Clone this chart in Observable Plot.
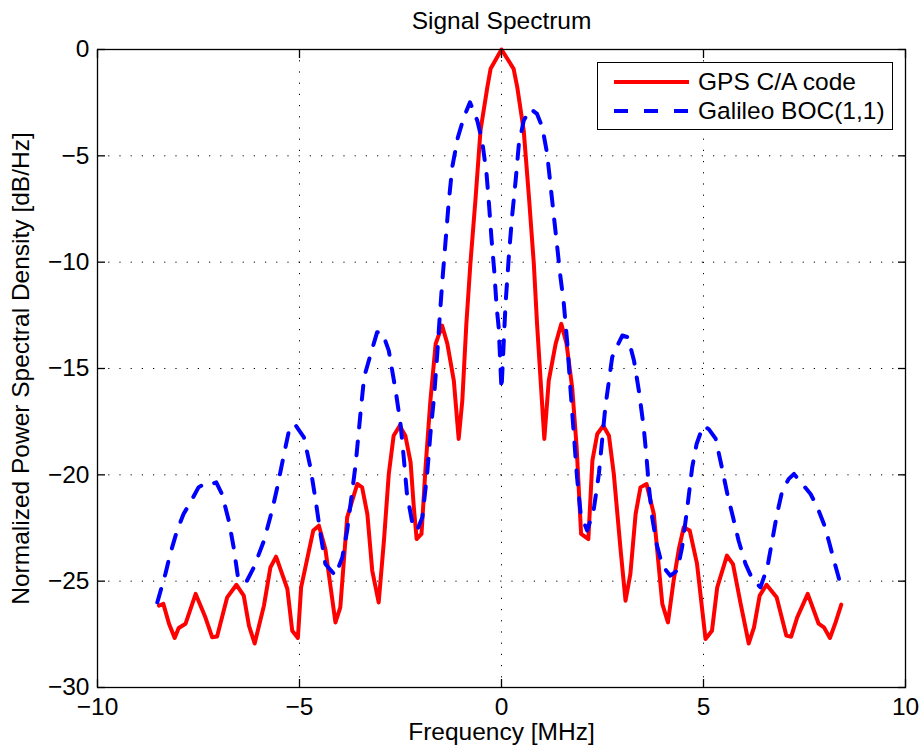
<!DOCTYPE html>
<html>
<head>
<meta charset="utf-8">
<script src="https://cdn.jsdelivr.net/npm/d3@7"></script>
<script src="https://cdn.jsdelivr.net/npm/@observablehq/plot@0.6"></script>
<style>
  html, body { margin: 0; padding: 0; background: #fff; overflow: hidden; }
  #wrap { position: relative; width: 922px; height: 754px; font-family: "Liberation Sans", Arial, sans-serif; }
  #legend { position: absolute; left: 597px; top: 62px; width: 294px; height: 66px; border: 1.3px solid #000; background: #fff; }
  #legend .row { position: absolute; left: 0; height: 28px; display: flex; align-items: center; }
  #legend svg { display: block; }
  #legend span { font-size: 24.5px; color: #000; margin-left: 9px; white-space: nowrap; }
</style>
</head>
<body>
<div id="wrap"></div>
<script>
// ---- data ----
const title = "Signal Spectrum";
const xLabel = "Frequency [MHz]";
const yLabel = "Normalized Power Spectral Density [dB/Hz]";
const xTicks = [-10, -5, 0, 5, 10];
const yTicks = [-30, -25, -20, -15, -10, -5, 0];
const seriesNames = ["GPS C/A code", "Galileo BOC(1,1)"];

const gpsFreq = [-8.48,-8.37,-8.23,-8.09,-7.99,-7.82,-7.57,-7.33,-7.16,-7.04,-6.79,-6.56,-6.38,-6.25,-6.11,-5.88,-5.72,-5.58,-5.30,-5.18,-5.04,-4.96,-4.66,-4.52,-4.36,-4.11,-3.99,-3.82,-3.57,-3.45,-3.32,-3.20,-3.04,-2.91,-2.79,-2.67,-2.52,-2.38,-2.25,-2.17,-2.10,-1.98,-1.88,-1.76,-1.63,-1.47,-1.34,-1.18,-1.06,-0.97,-0.87,-0.77,-0.64,-0.52,-0.35,-0.27,0,0.30,0.39,0.55,0.68,0.80,0.88,1.06,1.17,1.34,1.48,1.61,1.75,1.86,1.97,2.15,2.25,2.37,2.52,2.66,2.78,2.95,3.07,3.19,3.32,3.44,3.59,3.77,3.98,4.12,4.26,4.39,4.51,4.66,4.84,5.05,5.21,5.34,5.58,5.73,5.92,6.12,6.25,6.39,6.56,6.81,7.05,7.17,7.32,7.58,7.85,7.98,8.13,8.27,8.41];
const gpsPsd = [-26.15,-26.07,-27.0,-27.67,-27.2,-27.0,-25.6,-26.7,-27.64,-27.6,-25.76,-25.17,-25.68,-27.1,-27.93,-26.15,-24.35,-23.85,-25.37,-27.33,-27.67,-25.29,-22.62,-22.39,-23.49,-26.94,-26.23,-22.0,-20.43,-20.59,-21.85,-24.5,-26.0,-23.1,-19.96,-18.16,-17.69,-18.16,-19.41,-21.53,-23.02,-22.78,-19.65,-16.51,-13.84,-12.98,-13.84,-15.57,-18.31,-16.51,-12.9,-10.07,-6.95,-3.81,-1.77,-0.91,0,-0.91,-1.77,-3.81,-6.95,-10.07,-12.9,-18.31,-15.57,-13.84,-12.9,-13.84,-15.9,-18.7,-22.78,-23.02,-19.33,-18.08,-17.69,-18.16,-19.96,-23.57,-25.92,-24.66,-21.84,-20.59,-20.43,-21.84,-26.07,-26.94,-24.98,-23.49,-22.47,-22.62,-24.19,-27.72,-27.33,-25.29,-23.8,-24.2,-26.07,-27.93,-27.17,-25.68,-25.17,-25.76,-27.56,-27.61,-26.7,-25.6,-27.0,-27.17,-27.67,-26.94,-26.1];

const bocFreq = [-8.52,-8.32,-8.2,-8.03,-7.87,-7.70,-7.5,-7.33,-7.2,-7.06,-6.92,-6.75,-6.63,-6.51,-6.30,-6.13,-5.88,-5.68,-5.55,-5.4,-5.26,-5.12,-4.89,-4.73,-4.6,-4.48,-4.36,-4.11,-3.94,-3.82,-3.61,-3.49,-3.40,-3.26,-3.08,-2.95,-2.79,-2.62,-2.5,-2.42,-2.34,-2.21,-2.09,-1.96,-1.84,-1.76,-1.67,-1.59,-1.53,-1.47,-1.39,-1.31,-1.22,-1.08,-0.93,-0.78,-0.6,-0.48,-0.37,-0.31,-0.25,-0.18,-0.12,-0.07,0.0,0.1,0.18,0.26,0.35,0.43,0.55,0.72,0.88,1.01,1.13,1.21,1.29,1.38,1.46,1.54,1.63,1.71,1.79,1.87,1.96,2.12,2.28,2.41,2.49,2.57,2.66,2.74,2.85,2.99,3.13,3.28,3.40,3.52,3.59,3.65,3.73,3.84,3.98,4.18,4.35,4.47,4.6,4.72,4.83,4.99,5.13,5.30,5.46,5.59,5.75,5.87,6.04,6.21,6.41,6.58,6.70,6.82,6.95,7.11,7.24,7.48,7.65,7.82,7.98,8.10,8.23,8.39];
const bocPsd = [-26.0,-24.66,-23.72,-22.62,-21.84,-21.29,-20.59,-20.4,-20.45,-20.35,-20.9,-22.15,-23.41,-24.98,-24.98,-24.35,-23.1,-21.68,-20.59,-19.18,-17.92,-17.61,-18.24,-19.65,-21.21,-22.78,-24.19,-24.74,-23.88,-22.62,-19.5,-17.1,-15.4,-14.47,-13.3,-13.3,-14.16,-16.04,-17.6,-19.18,-20.9,-22.23,-22.62,-22.0,-19.96,-18.08,-16.35,-14.31,-12.6,-11.02,-9.14,-7.26,-5.54,-4.13,-3.18,-2.48,-3.34,-4.28,-5.85,-7.26,-8.83,-10.4,-12.12,-13.06,-16.0,-11.96,-9.77,-7.89,-6.16,-4.44,-3.34,-2.79,-3.03,-3.65,-4.91,-6.32,-7.73,-9.3,-10.71,-11.9,-13.84,-16.04,-18.08,-20.12,-21.84,-22.62,-21.68,-19.96,-18.39,-16.82,-15.57,-14.47,-14.0,-13.45,-13.53,-14.63,-16.04,-17.77,-19.18,-20.59,-22.0,-23.25,-24.27,-24.74,-24.5,-23.41,-21.53,-19.65,-18.55,-17.69,-17.85,-18.3,-19.7,-20.9,-22.15,-23.1,-24.19,-24.9,-25.29,-24.35,-23.1,-21.84,-20.74,-20.19,-19.96,-20.51,-20.9,-21.53,-22.31,-23.1,-24.03,-25.13];

const colors = ["#ff0000", "#0000ff"];
const dash = "14,14";

// ---- tables ----
const gps = gpsFreq.map((f, i) => ({f, p: gpsPsd[i]}));
const boc = bocFreq.map((f, i) => ({f, p: bocPsd[i]}));
const fmt = d => (d < 0 ? "\u2212" + Math.abs(d) : String(d));
const FONT = '"Liberation Sans", Arial, sans-serif';
const FS = 24.5;
const blank = () => "";

const chart = Plot.plot({
  width: 922,
  height: 754,
  marginLeft: 97,
  marginRight: 17,
  marginTop: 49,
  marginBottom: 67,
  style: {fontFamily: FONT, fontSize: FS + "px", color: "#000", background: "#fff", overflow: "visible"},
  x: {domain: [-10, 10], ticks: xTicks},
  y: {domain: [-30, 0], ticks: yTicks},
  marks: [
    Plot.gridX(xTicks, {stroke: "#000", strokeOpacity: 1, strokeWidth: 1, strokeDasharray: "1.2,10"}),
    Plot.gridY(yTicks, {stroke: "#000", strokeOpacity: 1, strokeWidth: 1, strokeDasharray: "1.2,10"}),
    Plot.line(gps, {x: "f", y: "p", stroke: colors[0], strokeWidth: 4, strokeLinejoin: "round"}),
    Plot.line(boc, {x: "f", y: "p", stroke: colors[1], strokeWidth: 4, strokeDasharray: dash}),
    Plot.frame({stroke: "#000", strokeWidth: 1.3}),
    Plot.axisX(xTicks, {anchor: "bottom", tickSize: 0, tickPadding: 10, label: null, tickFormat: fmt, fontSize: FS}),
    Plot.axisY(yTicks, {anchor: "left", tickSize: 0, tickPadding: 8, label: null, tickFormat: fmt, fontSize: FS}),
    Plot.axisX(xTicks, {anchor: "bottom", tickSize: -8, tickFormat: blank, label: null, strokeWidth: 1.3}),
    Plot.axisX(xTicks, {anchor: "top", tickSize: -8, tickFormat: blank, label: null, strokeWidth: 1.3}),
    Plot.axisY(yTicks, {anchor: "left", tickSize: -8, tickFormat: blank, label: null, strokeWidth: 1.3}),
    Plot.axisY(yTicks, {anchor: "right", tickSize: -8, tickFormat: blank, label: null, strokeWidth: 1.3}),
    Plot.text([title], {frameAnchor: "top", dy: -28, textAnchor: "middle", lineAnchor: "middle", fontSize: FS, fill: "#000"}),
    Plot.text([xLabel], {frameAnchor: "bottom", dy: 45, textAnchor: "middle", lineAnchor: "middle", fontSize: FS, fill: "#000"}),
    Plot.text([yLabel], {frameAnchor: "left", dx: -76, rotate: -90, textAnchor: "middle", lineAnchor: "middle", fontSize: FS, fill: "#000"})
  ]
});

const wrap = document.getElementById("wrap");
wrap.appendChild(chart);

// ---- legend (HTML overlay) ----
const legend = document.createElement("div");
legend.id = "legend";
const rowsTop = [5, 34];
seriesNames.forEach((name, i) => {
  const row = document.createElement("div");
  row.className = "row";
  row.style.top = rowsTop[i] + "px";
  row.style.left = "16px";
  const ns = "http://www.w3.org/2000/svg";
  const s = document.createElementNS(ns, "svg");
  s.setAttribute("width", 75);
  s.setAttribute("height", 10);
  const l = document.createElementNS(ns, "line");
  l.setAttribute("x1", 0); l.setAttribute("x2", 75);
  l.setAttribute("y1", 5); l.setAttribute("y2", 5);
  l.setAttribute("stroke", colors[i]);
  l.setAttribute("stroke-width", 4);
  if (i === 1) l.setAttribute("stroke-dasharray", "14,16");
  s.appendChild(l);
  row.appendChild(s);
  const t = document.createElement("span");
  t.textContent = name;
  row.appendChild(t);
  legend.appendChild(row);
});
wrap.appendChild(legend);
</script>
</body>
</html>
